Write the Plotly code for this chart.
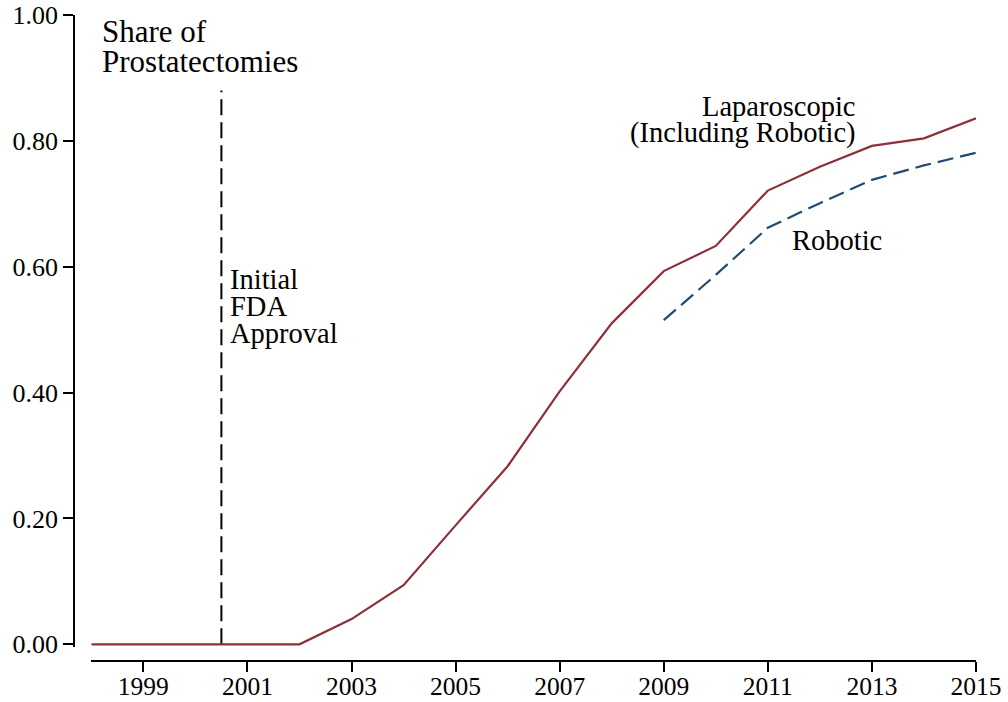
import plotly.graph_objects as go

# Share of prostatectomies by surgical approach
years = [1998, 1999, 2000, 2001, 2002, 2003, 2004, 2005, 2006, 2007, 2008,
         2009, 2010, 2011, 2012, 2013, 2014, 2015]
laparoscopic = [0.0, 0.0, 0.0, 0.0, 0.0, 0.040, 0.094, 0.189, 0.283, 0.402,
                0.510, 0.593, 0.633, 0.721, 0.759, 0.792, 0.804, 0.836]

robotic_years = [2009, 2010, 2011, 2012, 2013, 2014, 2015]
robotic = [0.515, 0.587, 0.662, 0.701, 0.738, 0.761, 0.781]

# Initial FDA approval marker
fda_year = [2000.5, 2000.5]
fda_span = [0.0, 0.88]

x_ticks = [1999, 2001, 2003, 2005, 2007, 2009, 2011, 2013, 2015]
y_ticks = [0.0, 0.2, 0.4, 0.6, 0.8, 1.0]
y_tick_text = ["0.00", "0.20", "0.40", "0.60", "0.80", "1.00"]

RED = "#8E3039"
BLUE = "#1F4C74"
FONT = "'Liberation Serif', 'DejaVu Serif', serif"

fig = go.Figure()

fig.add_trace(go.Scatter(
    x=fda_year, y=fda_span, mode="lines",
    line=dict(color="black", width=2, dash="16px,7px"),
    hoverinfo="skip", showlegend=False,
))
fig.add_trace(go.Scatter(
    x=years, y=laparoscopic, mode="lines",
    line=dict(color=RED, width=2.2),
    name="Laparoscopic", showlegend=False,
))
fig.add_trace(go.Scatter(
    x=robotic_years, y=robotic, mode="lines",
    line=dict(color=BLUE, width=2.2, dash="16px,7px"),
    name="Robotic", showlegend=False,
))

W, H = 1008, 702
ml, mr, mt, mb = 74, 32, 15, 41
pw, ph = W - ml - mr, H - mt - mb

fig.update_layout(
    width=W, height=H,
    margin=dict(l=ml, r=mr, t=mt, b=mb, pad=0, autoexpand=False),
    plot_bgcolor="white", paper_bgcolor="white",
    font=dict(family=FONT, size=25, color="black"),
    xaxis=dict(
        domain=[17.3 / pw, 1.0], anchor="free", position=0.0,
        range=[1998, 2015], tickvals=x_ticks, automargin=False,
        ticks="outside", ticklen=10, tickwidth=1.5, tickcolor="black",
        ticklabelstandoff=-7,
        showline=True, linecolor="black", linewidth=1.5,
        showgrid=False, zeroline=False,
        tickfont=dict(family=FONT, size=25.5, color="black"),
    ),
    yaxis=dict(
        domain=[14.2 / ph, 1.0], anchor="free", position=0.0,
        range=[-0.004, 1.0], tickvals=y_ticks, ticktext=y_tick_text,
        automargin=False,
        ticks="outside", ticklen=10, tickwidth=1.5, tickcolor="black",
        showline=True, linecolor="black", linewidth=1.5,
        showgrid=False, zeroline=False,
        tickfont=dict(family=FONT, size=26, color="black"),
    ),
)

def label(text, x, y, xanchor="left", size=28.5):
    fig.add_annotation(
        text=text, x=x, y=y, xref="x", yref="y",
        xanchor=xanchor, yanchor="middle", showarrow=False,
        font=dict(family=FONT, size=size, color="black"),
    )

label("Share of", 1998.17, 0.973, size=31)
label("Prostatectomies", 1998.17, 0.926, size=31)
label("Laparoscopic", 2012.73, 0.855, xanchor="right")
label("(Including Robotic)", 2012.73, 0.812, xanchor="right")
label("Robotic", 2011.42, 0.641)
label("Initial", 2000.63, 0.580)
label("FDA", 2000.63, 0.537)
label("Approval", 2000.63, 0.494)

fig.write_html("out.html")
